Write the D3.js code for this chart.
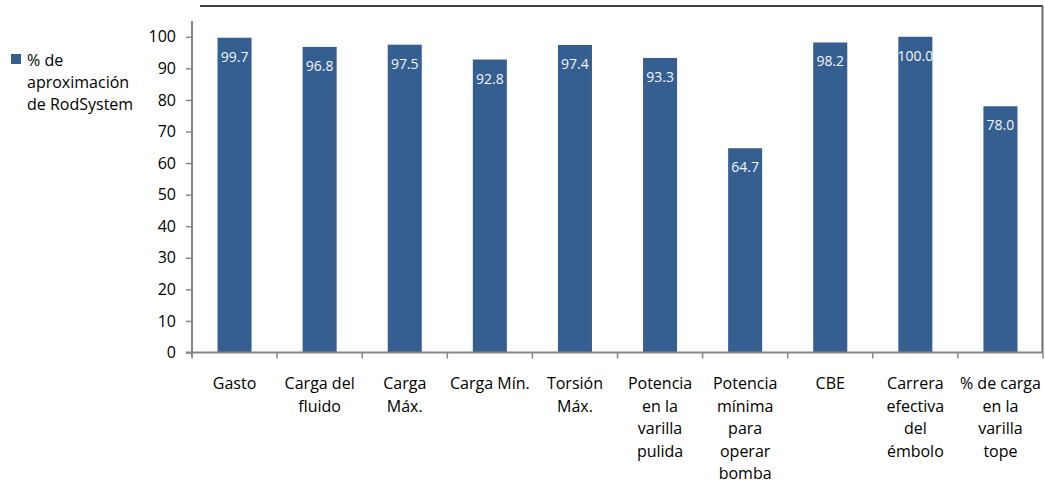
<!DOCTYPE html>
<html>
<head>
<meta charset="utf-8">
<script src="https://cdn.jsdelivr.net/npm/d3@7"></script>
<style>
  html, body { margin: 0; padding: 0; background: #fff; }
  svg { display: block; font-family: "Open Sans", Lato, sans-serif; }
</style>
</head>
<body>
<svg id="chart" width="1045" height="484"></svg>
<script>
// Category labels, with line breaks where the axis label wraps
const categories = [
  "Gasto",
  "Carga del\nfluido",
  "Carga\nMáx.",
  "Carga Mín.",
  "Torsión\nMáx.",
  "Potencia\nen la\nvarilla\npulida",
  "Potencia\nmínima\npara\noperar\nbomba",
  "CBE",
  "Carrera\nefectiva\ndel\némbolo",
  "% de carga\nen la\nvarilla\ntope"
];
// % de aproximación de RodSystem
const values = [99.7, 96.8, 97.5, 92.8, 97.4, 93.3, 64.7, 98.2, 100.0, 78.0];
const yTicks = [0, 10, 20, 30, 40, 50, 60, 70, 80, 90, 100];
const seriesName = ["% de", "aproximación", "de RodSystem"];

const barColor = "#365f91";
const axisColor = "#868686";
const fontFamily = "'Open Sans', Lato, sans-serif";

const svg = d3.select("#chart");

const x = d3.scaleBand()
  .domain(categories)
  .range([192, 1043])
  .paddingInner(0.6)
  .paddingOuter(0.3);

const y = d3.scaleLinear()
  .domain([0, 105])
  .range([352.5, 21]);

// plot frame: top edge and right edge
svg.append("line")
  .attr("x1", 200).attr("x2", 1043)
  .attr("y1", 6).attr("y2", 6)
  .attr("stroke", "#000").attr("stroke-width", 1.5);
svg.append("line")
  .attr("x1", 1042.5).attr("x2", 1042.5)
  .attr("y1", 6).attr("y2", y(0))
  .attr("stroke", "#6e6e6e").attr("stroke-width", 2);

// bars
svg.append("g").selectAll("rect")
  .data(values)
  .join("rect")
  .attr("x", (d, i) => x(categories[i]))
  .attr("y", d => y(d))
  .attr("width", x.bandwidth())
  .attr("height", d => y(0) - y(d))
  .attr("fill", barColor);

// value labels inside the bar tops
svg.append("g").selectAll("text")
  .data(values)
  .join("text")
  .attr("x", (d, i) => x(categories[i]) + x.bandwidth() / 2)
  .attr("y", d => y(d) + 24)
  .attr("text-anchor", "middle")
  .attr("fill", "#f4f6fa")
  .attr("font-size", 14)
  .text(d => d.toFixed(1));

// y axis
const yAxis = svg.append("g")
  .attr("transform", "translate(192,0)")
  .call(d3.axisLeft(y).tickValues(yTicks).tickSize(6).tickPadding(10).tickSizeOuter(0));
yAxis.select(".domain").attr("stroke", axisColor).attr("stroke-width", 2)
  .attr("d", `M0,${y(0) + 4}V21`);
yAxis.selectAll(".tick line").attr("stroke", axisColor).attr("stroke-width", 1.5);
yAxis.selectAll(".tick text")
  .attr("font-family", fontFamily)
  .attr("font-size", 16).attr("fill", "#000");

// x axis with ticks on category boundaries
const xg = svg.append("g");
xg.append("line")
  .attr("x1", 186).attr("x2", 1043)
  .attr("y1", y(0)).attr("y2", y(0))
  .attr("stroke", axisColor).attr("stroke-width", 2);
xg.selectAll("line.tick")
  .data(categories.map(c => x(c) - x.step() * x.paddingInner() / 2).concat([1043]))
  .join("line")
  .attr("class", "tick")
  .attr("x1", d => d).attr("x2", d => d)
  .attr("y1", y(0)).attr("y2", y(0) + 6)
  .attr("stroke", axisColor).attr("stroke-width", 1.5);

// category labels
const lab = xg.selectAll("text.cat")
  .data(categories)
  .join("text")
  .attr("class", "cat")
  .attr("text-anchor", "middle")
  .attr("font-size", 16)
  .attr("fill", "#000")
  .attr("transform", d => `translate(${x(d) + x.bandwidth() / 2},389)`);
lab.selectAll("tspan")
  .data(d => d.split("\n"))
  .join("tspan")
  .attr("x", 0)
  .attr("y", (d, i) => i * 22.5)
  .text(d => d);

// legend
const leg = svg.append("g");
leg.append("rect")
  .attr("x", 11).attr("y", 54)
  .attr("width", 10).attr("height", 10)
  .attr("fill", barColor);
leg.selectAll("text")
  .data(seriesName)
  .join("text")
  .attr("x", 27)
  .attr("y", (d, i) => 66 + i * 22)
  .attr("font-size", 16)
  .attr("fill", "#000")
  .text(d => d);
</script>
</body>
</html>
